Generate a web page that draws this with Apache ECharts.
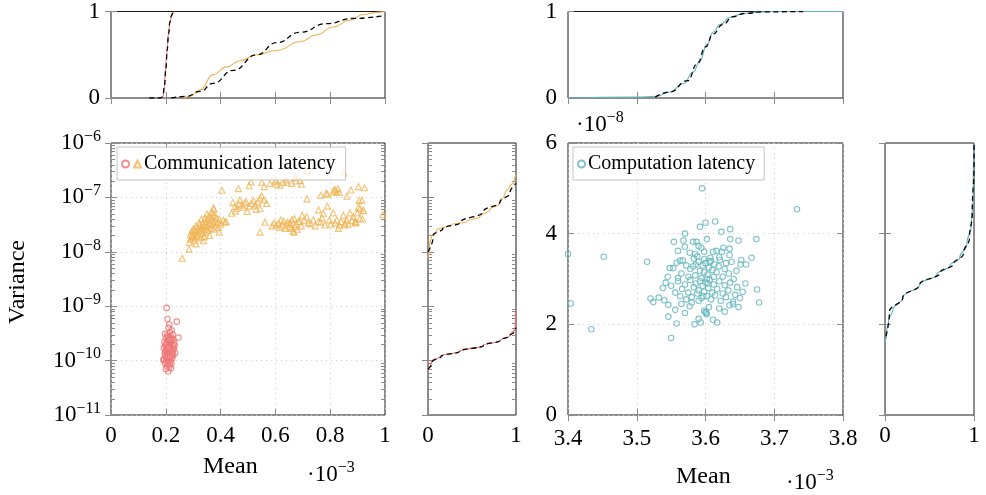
<!DOCTYPE html>
<html><head><meta charset="utf-8">
<script src="https://cdn.jsdelivr.net/npm/echarts@6/dist/echarts.min.js"></script>
<style>html,body{margin:0;padding:0;background:#fff}#c{width:986px;height:495px}</style>
</head><body><div id="c"></div>
<script>
const FONT = 'Liberation Serif';
const RED = '#ef6e6e', ORANGE = '#efb14f', CYAN = '#5fb4bc';

// ---------- data ----------
// Communication latency, low-variance group: [mean (x1e-3), variance]
const commRedPoints = [
[0.203,9.3e-10],[0.206,5.8e-10],[0.240,5.2e-10],[0.213,4.6e-10],[0.221,3.6e-10],[0.246,2.65e-10],[0.197,3.1e-10],[0.234,1.38e-10],[0.191,1.03e-10],[0.209,6.3e-11],
[0.210,4.0e-10],[0.215,3.3e-10],[0.205,2.9e-10],[0.218,2.8e-10],[0.225,3.0e-10],[0.200,2.6e-10],[0.212,2.5e-10],[0.228,2.4e-10],[0.207,2.3e-10],[0.219,2.3e-10],
[0.195,2.2e-10],[0.214,2.2e-10],[0.231,2.1e-10],[0.203,2.1e-10],[0.222,2.0e-10],[0.210,2.0e-10],[0.198,1.9e-10],[0.216,1.9e-10],[0.226,1.85e-10],[0.206,1.8e-10],
[0.213,1.8e-10],[0.220,1.75e-10],[0.193,1.7e-10],[0.209,1.7e-10],[0.230,1.65e-10],[0.202,1.6e-10],[0.217,1.6e-10],[0.211,1.55e-10],[0.224,1.5e-10],[0.199,1.5e-10],
[0.207,1.45e-10],[0.215,1.4e-10],[0.221,1.4e-10],[0.196,1.35e-10],[0.212,1.3e-10],[0.204,1.3e-10],[0.227,1.25e-10],[0.218,1.2e-10],[0.209,1.2e-10],[0.200,1.15e-10],
[0.214,1.1e-10],[0.223,1.1e-10],[0.194,1.05e-10],[0.206,1.05e-10],[0.217,1.0e-10],[0.211,9.5e-11],[0.201,9.5e-11],[0.220,9.0e-11],[0.197,8.8e-11],[0.208,8.5e-11],
[0.215,8.2e-11],[0.204,7.8e-11],[0.212,7.5e-11],[0.219,7.2e-11],[0.200,7.0e-11],[0.216,2.6e-10],[0.208,2.7e-10],[0.222,2.5e-10],[0.202,1.95e-10],[0.232,1.9e-10],
[0.213,2.4e-10],[0.205,1.65e-10],[0.226,1.55e-10],[0.218,1.45e-10],[0.210,1.35e-10],[0.198,1.25e-10],[0.223,1.3e-10],[0.207,1.15e-10],[0.216,1.18e-10],[0.211,1.75e-10]
];
// Communication latency, high-variance group
const commOrangePoints = [
[0.260,7.6e-9],[0.285,1.12e-8],[0.286,1.48e-8],[0.295,1.9e-8],[0.310,1.4e-8],[0.338,1.6e-8],
[0.290,2.1e-8],[0.290,1.7e-8],[0.295,2.4e-8],[0.300,1.8e-8],[0.300,2.2e-8],[0.305,1.6e-8],[0.305,2.6e-8],[0.310,2.0e-8],[0.310,2.3e-8],[0.315,1.9e-8],[0.315,2.8e-8],[0.320,2.1e-8],[0.320,2.5e-8],[0.325,3.0e-8],
[0.325,1.8e-8],[0.330,2.4e-8],[0.330,2.7e-8],[0.335,2.2e-8],[0.335,3.3e-8],[0.340,2.6e-8],[0.340,3.0e-8],[0.345,2.3e-8],[0.345,3.6e-8],[0.350,2.9e-8],[0.350,3.2e-8],[0.355,2.5e-8],[0.355,4.0e-8],[0.360,3.1e-8],
[0.360,3.5e-8],[0.365,2.7e-8],[0.365,4.4e-8],[0.370,3.3e-8],[0.370,3.8e-8],[0.375,2.6e-8],[0.375,4.8e-8],[0.380,3.6e-8],[0.380,3.0e-8],[0.385,4.2e-8],[0.390,3.4e-8],[0.395,4.0e-8],[0.400,3.2e-8],[0.410,3.8e-8],
[0.420,3.6e-8],[0.350,5.0e-8],[0.376,6.1e-8],[0.330,4.0e-8],[0.310,3.0e-8],[0.300,2.6e-8],[0.360,2.0e-8],[0.340,1.9e-8],[0.395,2.3e-8],[0.416,3.5e-8],[0.343,4.2e-8],[0.373,6.4e-8],[0.392,2.8e-8],[0.368,5.3e-8],
[0.357,4.6e-8],[0.382,4.4e-8],[0.322,3.4e-8],[0.296,2.0e-8],
[0.405,1.35e-7],[0.465,1.45e-7],
[0.440,5.1e-8],[0.445,8.1e-8],[0.459,6.3e-8],[0.477,7.2e-8],[0.493,8.3e-8],[0.513,7.7e-8],[0.526,7.2e-8],[0.544,9.7e-8],[0.550,1.07e-7],[0.568,7.7e-8],[0.544,6.3e-8],[0.497,5.5e-8],[0.452,6.8e-8],
[0.466,7.6e-8],[0.483,6.6e-8],[0.505,6.9e-8],[0.520,8.8e-8],[0.535,8.2e-8],[0.455,5.6e-8],[0.470,9.0e-8],[0.488,7.9e-8],[0.530,6.0e-8],[0.558,9.0e-8],
[0.504,1.64e-7],[0.511,1.94e-7],[0.550,1.9e-7],[0.559,1.58e-7],[0.580,1.8e-7],[0.599,1.94e-7],[0.617,1.67e-7],[0.627,1.9e-7],[0.641,1.9e-7],[0.672,2.3e-7],[0.675,2.0e-7],[0.695,1.74e-7],
[0.717,3.1e-7],[0.849,2.8e-7],[0.602,2.1e-7],[0.673,2.4e-7],[0.605,1.75e-7],[0.640,2.1e-7],[0.660,1.8e-7],[0.690,2.05e-7],
[0.715,9.4e-8],[0.766,1.1e-7],[0.785,1.19e-7],[0.815,1.4e-7],[0.824,1.27e-7],[0.833,1.24e-7],[0.861,1.05e-7],[0.876,1.37e-7],[0.903,1.58e-7],[0.925,1.5e-7],[0.906,8.8e-8],[0.916,8.9e-8],
[0.903,6.6e-8],[0.920,5.8e-8],[0.818,1.35e-7],[0.828,1.45e-7],[0.810,1.25e-7],[0.790,1.15e-7],
[0.544,2.3e-8],[0.562,3.5e-8],[0.602,3.1e-8],[0.641,3.2e-8],[0.651,2.9e-8],[0.665,2.4e-8],[0.690,3.6e-8],[0.669,4.1e-8],[0.612,3.3e-8],[0.631,3.7e-8],[0.653,3.4e-8],[0.660,3.9e-8],
[0.672,2.9e-8],[0.668,2.3e-8],[0.684,3.6e-8],[0.698,4.7e-8],[0.714,4.4e-8],[0.720,3.4e-8],[0.738,3.84e-8],[0.757,5.9e-8],[0.757,3.6e-8],[0.775,5.1e-8],[0.781,3.1e-8],[0.790,6.9e-8],
[0.797,3.84e-8],[0.811,5.2e-8],[0.818,3.4e-8],[0.824,3.84e-8],[0.830,2.7e-8],[0.833,3.1e-8],[0.848,4.7e-8],[0.860,3.84e-8],[0.872,5.2e-8],[0.884,4.4e-8],[0.891,3.6e-8],[0.899,5.2e-8],
[0.909,4.1e-8],[0.918,4.0e-8],[0.894,3.5e-8],[0.854,3.4e-8],[0.992,4.8e-8],[0.909,6.3e-8],[0.921,5.7e-8],[0.854,3.1e-8],[0.893,3.4e-8],
[0.625,3.0e-8],[0.636,2.7e-8],[0.645,3.5e-8],[0.658,2.7e-8],[0.676,3.2e-8],[0.680,2.6e-8],[0.695,3.0e-8],[0.705,3.8e-8],[0.728,3.3e-8],[0.745,3.0e-8],[0.765,3.5e-8],[0.770,4.2e-8],
[0.802,3.2e-8],[0.840,3.6e-8],[0.866,3.2e-8],[0.880,3.8e-8],[0.615,2.8e-8],[0.595,3.4e-8],[0.588,3.0e-8],[0.620,3.9e-8]
];
// Computation latency: [mean (x1e-3), variance (x1e-8)]
const compPoints = [
[3.400,3.55],[3.404,2.46],[3.434,1.89],[3.452,3.49],[3.515,3.38],[3.550,1.70],[3.595,5.00],[3.733,4.54],[3.674,3.88],[3.675,2.77],[3.678,2.48],[3.667,3.47],
[3.592,4.15],[3.600,4.24],[3.614,4.27],[3.623,4.04],[3.636,4.10],[3.570,4.00],[3.554,3.82],[3.568,3.85],[3.582,3.82],[3.587,3.82],[3.590,3.73],[3.594,3.69],[3.602,3.88],
[3.570,3.71],[3.577,3.58],[3.607,3.47],[3.611,3.60],[3.616,3.62],[3.624,3.60],[3.626,3.69],[3.635,3.67],[3.636,3.88],[3.648,3.85],[3.635,3.53],[3.652,3.42],[3.659,3.32],
[3.651,3.32],[3.598,3.60],[3.585,3.55],[3.560,3.62],
[3.548,3.24],[3.553,3.24],[3.558,3.36],[3.563,3.40],[3.567,3.41],[3.572,3.30],[3.578,3.22],[3.583,3.45],[3.586,3.32],[3.590,3.38],[3.592,3.18],[3.596,3.30],[3.598,3.44],
[3.600,3.35],[3.603,3.10],[3.605,3.25],[3.608,3.40],[3.610,3.20],[3.613,3.32],[3.616,3.15],[3.619,3.28],[3.621,3.42],[3.625,3.05],[3.628,3.22],[3.630,3.35],[3.634,3.12],
[3.638,3.38],[3.641,3.00],[3.645,3.18],[3.575,3.05],[3.565,3.12],[3.585,3.08],[3.594,3.02],[3.602,3.00],[3.612,3.05],[3.560,3.02],[3.545,3.05],[3.620,3.48],[3.588,3.50],
[3.598,3.15],[3.606,3.38],[3.582,3.28],
[3.520,2.57],[3.524,2.49],[3.532,2.59],[3.540,2.53],[3.546,2.43],[3.538,2.80],[3.542,2.92],[3.550,2.85],[3.556,2.70],[3.560,2.95],[3.563,2.62],[3.566,2.78],[3.570,2.88],
[3.572,2.55],[3.575,2.70],[3.578,2.98],[3.580,2.60],[3.583,2.82],[3.586,2.90],[3.588,2.68],[3.590,2.75],[3.592,2.95],[3.594,2.58],[3.596,2.85],[3.598,2.72],[3.600,2.92],
[3.602,2.62],[3.604,2.80],[3.606,2.98],[3.608,2.55],[3.610,2.70],[3.612,2.88],[3.614,2.64],[3.617,2.78],[3.620,2.95],[3.622,2.52],[3.625,2.68],[3.628,2.86],[3.630,2.60],
[3.633,2.75],[3.636,2.92],[3.640,2.50],[3.643,2.65],[3.646,2.82],[3.650,2.58],[3.654,2.72],[3.658,2.90],[3.590,2.52],[3.597,2.62],[3.603,2.90],
[3.546,2.17],[3.556,2.32],[3.558,2.02],[3.570,2.25],[3.577,2.40],[3.584,2.00],[3.590,2.12],[3.593,2.04],[3.598,2.30],[3.601,2.25],[3.605,2.38],[3.611,2.10],[3.617,2.04],
[3.620,2.35],[3.628,2.28],[3.635,2.42],[3.640,2.45],[3.648,2.38],[3.565,2.45],[3.580,2.48],[3.602,2.22],[3.600,2.27]
];
// Empirical CDFs (solid) and fitted CDFs (dashed)
const cdfMeanRed = [[0.186,0],[0.190,0.02],[0.194,0.1],[0.198,0.27],[0.202,0.45],[0.206,0.62],[0.210,0.76],[0.215,0.87],[0.220,0.94],[0.226,0.98],[0.232,1.0]];
const fitMeanRed = [[0.14,0],[0.18,0.0],[0.186,0.01],[0.19,0.04],[0.195,0.14],[0.2,0.33],[0.205,0.55],[0.21,0.74],[0.215,0.88],[0.22,0.95],[0.226,0.99],[0.232,1.0]];
const cdfMeanOrange = [[0.262,0],[0.29,0.02],[0.325,0.095],[0.373,0.27],[0.422,0.36],[0.471,0.43],[0.532,0.50],[0.605,0.55],[0.69,0.65],[0.75,0.73],[0.811,0.82],[0.872,0.90],[0.921,0.966],[0.97,0.99],[1.0,1.0]];
const fitMeanOrange = [[0.22,0],[0.276,0.02],[0.325,0.076],[0.373,0.17],[0.446,0.32],[0.532,0.5],[0.605,0.64],[0.69,0.76],[0.787,0.86],[0.884,0.92],[1.0,0.954]];
const cdfVarRed = [[0,6.7e-11],[0.04,9.7e-11],[0.14,1.2e-10],[0.36,1.48e-10],[0.63,1.9e-10],[0.82,2.35e-10],[0.93,2.9e-10],[0.99,3.9e-10],[1.0,8.6e-10]];
const fitVarRed = [[0,7.0e-11],[0.05,9.5e-11],[0.15,1.2e-10],[0.36,1.48e-10],[0.63,1.9e-10],[0.82,2.35e-10],[0.93,2.85e-10],[0.98,3.4e-10],[1.0,4.0e-10]];
const cdfVarOrange = [[0,7.6e-9],[0.015,1.33e-8],[0.04,1.9e-8],[0.1,2.5e-8],[0.25,3.1e-8],[0.44,3.6e-8],[0.59,4.4e-8],[0.70,5.9e-8],[0.81,7.7e-8],[0.875,1.19e-7],[0.93,1.6e-7],[0.977,1.94e-7],[1.0,2.6e-7]];
const fitVarOrange = [[0,1.0e-8],[0.06,2.0e-8],[0.17,2.7e-8],[0.36,3.4e-8],[0.63,5.5e-8],[0.82,8.3e-8],[0.93,1.19e-7],[1.0,1.8e-7]];
const cdfMeanComp = [[3.4,0],[3.5,0.01],[3.529,0.02],[3.548,0.07],[3.568,0.165],[3.582,0.30],[3.592,0.43],[3.602,0.62],[3.611,0.76],[3.621,0.85],[3.636,0.93],[3.655,0.977],[3.679,0.996],[3.70,1.0],[3.8,1.0]];
const fitMeanComp = [[3.527,0.01],[3.548,0.07],[3.574,0.2],[3.588,0.395],[3.6,0.59],[3.611,0.74],[3.625,0.85],[3.64,0.94],[3.657,0.977],[3.682,0.996],[3.742,1.0]];
const cdfVarComp = [[0,1.6],[0.02,1.85],[0.04,2.07],[0.09,2.33],[0.2,2.59],[0.39,2.88],[0.58,3.1],[0.73,3.29],[0.84,3.47],[0.92,3.77],[0.97,4.2],[0.99,4.79],[1.0,6.0]];
const fitVarComp = [[0.01,1.74],[0.05,2.28],[0.2,2.59],[0.39,2.88],[0.62,3.14],[0.77,3.33],[0.88,3.55],[0.95,3.92],[0.98,4.43],[1.0,5.52],[1.0,6.0]];

// axis ranges / ticks
const commMeanRange = [0, 1], commMeanStep = 0.2;
const commVarRange = [1e-11, 1e-6];
const compMeanRange = [3.4, 3.8], compMeanStep = 0.1;
const compVarRange = [0, 6], compVarStep = 2;
const cdfRange = [0, 1];
const minorMultipliers = [2,3,4,5,6,7,8,9];
const decades = [-11,-10,-9,-8,-7];
const legendComm = 'Communication latency';
const legendComp = 'Computation latency';
const redName = 'Communication latency (low variance)';

// ---------- layout ----------
const grids = [
  {left:111, top:11, width:274, height:87},
  {left:111, top:143, width:274, height:272},
  {left:428, top:143, width:88, height:272},
  {left:568, top:11, width:275, height:87},
  {left:568, top:143, width:275, height:272},
  {left:885, top:143, width:89, height:272}
].map(g => Object.assign({show:true, borderColor:'#1a1a1a', borderWidth:1, backgroundColor:'transparent'}, g));

const TICK = '#8a8a8a';
const LBL = {color:'#000', fontFamily:FONT, fontSize:23};
const SUP = {s:{fontSize:16, fontFamily:FONT, color:'#000', padding:[0,0,13,0]}};
const dotted = {show:true, lineStyle:{color:'#cfcfcf', type:[1.2,3.8], width:1}};

function xAxes(g, o) {
  const base = {gridIndex:g, type:o.type||'value', min:o.min, max:o.max, interval:o.interval,
    axisLine:{show:false}, axisTick:{show:true, inside:true, length:6, lineStyle:{color:TICK}}};
  return [
    Object.assign({}, base, {position:'bottom',
      axisLabel: o.labels ? Object.assign({show:true, margin:o.margin||9, formatter:o.fmt, showMinLabel:true, showMaxLabel:true}, LBL) : {show:false},
      splitLine: o.grid ? dotted : {show:false}}),
    Object.assign({}, base, {position:'top', axisLabel:{show:false}, splitLine:{show:false}})
  ];
}
function yAxes(g, o) {
  const base = {gridIndex:g, type:o.type||'value', min:o.min, max:o.max, interval:o.interval, logBase:10, splitNumber:o.split,
    axisLine:{show:false}, axisTick:{show:true, inside:true, length:6, lineStyle:{color:TICK}}};
  return [
    Object.assign({}, base, {position:'left',
      axisLabel: o.labels ? Object.assign({show:true, margin:o.margin||10, formatter:o.fmt, rich:o.rich, showMinLabel:true, showMaxLabel:true}, LBL) : {show:false},
      splitLine: o.grid ? dotted : {show:false}}),
    Object.assign({}, base, {position:'right', axisLabel:{show:false}, splitLine:{show:false}})
  ];
}
const fmt1 = v => String(Number(v.toFixed(1)));
const fmtLog = v => '10{s|−' + Math.round(-Math.log10(v)) + '}';

const xAxis = [].concat(
  xAxes(0, {min:commMeanRange[0], max:commMeanRange[1], interval:commMeanStep}),
  xAxes(1, {min:commMeanRange[0], max:commMeanRange[1], interval:commMeanStep, labels:true, grid:true, fmt:fmt1}),
  xAxes(2, {min:cdfRange[0], max:cdfRange[1], interval:1, labels:true, fmt:fmt1}),
  xAxes(3, {min:compMeanRange[0], max:compMeanRange[1], interval:compMeanStep}),
  xAxes(4, {min:compMeanRange[0], max:compMeanRange[1], interval:compMeanStep, labels:true, grid:true, fmt:fmt1, margin:12}),
  xAxes(5, {min:cdfRange[0], max:cdfRange[1], interval:1, labels:true, fmt:fmt1})
);
const yAxis = [].concat(
  yAxes(0, {min:cdfRange[0], max:cdfRange[1], interval:1, labels:true, fmt:fmt1, margin:11}),
  yAxes(1, {type:'log', min:commVarRange[0], max:commVarRange[1], split:5, labels:true, grid:true, fmt:fmtLog, rich:SUP, margin:10}),
  yAxes(2, {type:'log', min:commVarRange[0], max:commVarRange[1], split:5}),
  yAxes(3, {min:cdfRange[0], max:cdfRange[1], interval:1, labels:true, fmt:fmt1, margin:11}),
  yAxes(4, {min:compVarRange[0], max:compVarRange[1], interval:compVarStep, labels:true, grid:true, fmt:fmt1, margin:11}),
  yAxes(5, {min:compVarRange[0], max:compVarRange[1], interval:compVarStep})
);

const minorTicks = [];
decades.forEach(d => minorMultipliers.forEach(m => minorTicks.push([0, m * Math.pow(10, d)])));
function minorTickSeries(g) {
  return {type:'custom', xAxisIndex:2*g, yAxisIndex:2*g, silent:true, z:3, data:minorTicks,
    renderItem(params, api) {
      const cs = params.coordSys;
      const y = Math.round(api.coord([0, api.value(1)])[1]) + 0.5;
      const st = {stroke:TICK, lineWidth:1};
      return {type:'group', children:[
        {type:'line', shape:{x1:cs.x, y1:y, x2:cs.x+4, y2:y}, style:st},
        {type:'line', shape:{x1:cs.x+cs.width-4, y1:y, x2:cs.x+cs.width, y2:y}, style:st}
      ]};
    }};
}

function scatter(name, g, data, color, symbol, size) {
  return {name, type:'scatter', xAxisIndex:2*g, yAxisIndex:2*g, data, symbol, symbolSize:size,
    itemStyle:{color:'rgba(255,255,255,0.15)', borderColor:color, borderWidth:1.1}, z:5, silent:true};
}
function line(g, data, color, dashed, mono) {
  return {type:'line', xAxisIndex:2*g, yAxisIndex:2*g, data, showSymbol:false, smooth:0.5, smoothMonotone:mono,
    lineStyle:{color, width:dashed?1.3:1.1, type:dashed?[5,3.5]:'solid'}, z:dashed?6:5, silent:true, animation:false};
}

const series = [
  scatter(redName, 1, commRedPoints, RED, 'circle', 5.5),
  scatter(legendComm, 1, commOrangePoints, ORANGE, 'triangle', 6),
  scatter(legendComp, 4, compPoints, CYAN, 'circle', 5.5),
  line(0, cdfMeanRed, RED, false, 'x'), line(0, fitMeanRed, '#000', true, 'x'),
  line(0, cdfMeanOrange, ORANGE, false, 'x'), line(0, fitMeanOrange, '#000', true, 'x'),
  line(2, cdfVarRed, RED, false, 'y'), line(2, fitVarRed, '#000', true, 'y'),
  line(2, cdfVarOrange, ORANGE, false, 'y'), line(2, fitVarOrange, '#000', true, 'y'),
  line(3, fitMeanComp, '#000', true, 'x'), line(3, cdfMeanComp, CYAN, false, 'x'),
  line(5, fitVarComp, '#000', true, 'y'), line(5, cdfVarComp, CYAN, false, 'y'),
  minorTickSeries(1), minorTickSeries(2)
];

const legendBase = {orient:'horizontal', itemWidth:7, itemHeight:7, itemGap:3,
  backgroundColor:'rgba(255,255,255,0.75)', borderColor:'#c4c4c4', borderWidth:1, borderRadius:0,
  textStyle:{fontFamily:FONT, fontSize:20, color:'#000', padding:[0,0,0,-2]}, selectedMode:false, z:10};

const supRich = {s:{fontSize:16, fontFamily:FONT, color:'#000', padding:[0,0,13,0]}, b:{fontSize:23, fontFamily:FONT, color:'#000'}};
const option = {
  animation:false,
  backgroundColor:'#fff',
  grid:grids, xAxis, yAxis, series,
  legend:[
    Object.assign({}, legendBase, {left:117, top:147, padding:[7,10,6,4],
      data:[{name:redName, icon:'circle'}, {name:legendComm, icon:'triangle'}],
      formatter: n => n === redName ? '' : n}),
    Object.assign({}, legendBase, {left:573, top:147, padding:[7,9,6,4],
      data:[{name:legendComp, icon:'circle'}]})
  ],
  graphic:[
    {type:'text', left:203, top:455, style:{text:'Mean', font:'24px "Liberation Serif"', fill:'#000'}},
    {type:'text', left:676, top:465, style:{text:'Mean', font:'24px "Liberation Serif"', fill:'#000'}},
    {type:'text', x:18, y:282, rotation:Math.PI/2, style:{text:'Variance', font:'24px "Liberation Serif"', fill:'#000', align:'center', verticalAlign:'middle'}},
    {type:'text', left:307, top:460, style:{text:'{b|·10}{s|−3}', rich:supRich}},
    {type:'text', left:786, top:468, style:{text:'{b|·10}{s|−3}', rich:supRich}},
    {type:'text', left:576, top:110, style:{text:'{b|·10}{s|−8}', rich:supRich}}
  ]
};
const chart = echarts.init(document.getElementById('c'));
chart.setOption(option);
</script>
</body></html>
